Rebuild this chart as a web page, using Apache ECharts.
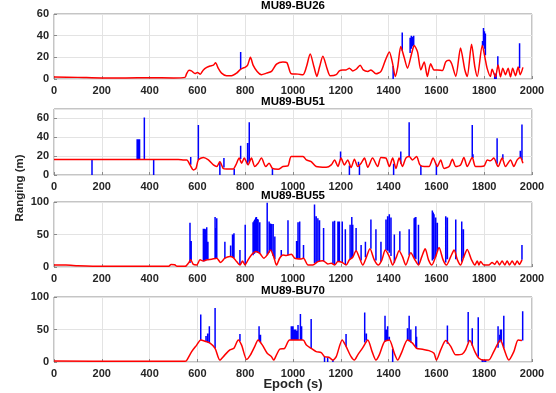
<!DOCTYPE html>
<html><head><meta charset="utf-8">
<script src="https://cdn.jsdelivr.net/npm/echarts@6/dist/echarts.min.js"></script>
<style>html,body{margin:0;padding:0;background:#fff}#c{width:556px;height:393px}</style>
</head><body><div id="c"></div><script>
const panelTitles = ['MU89-BU26', 'MU89-BU51', 'MU89-BU55', 'MU89-BU70'];
const xMin = 0, xMax = 2000, xInterval = 200;
const yMaxes = [60, 70, 100, 100];
const yIntervals = [20, 20, 50, 50];

// red curves [epoch, ranging]
const red26 = [[0,1.8],[100,1.5],[200,1],[300,1],[400,1.2],[500,1],[548,1.5],[555,5],[565,8],[575,7.5],[590,5],[600,6],[612,4.5],[625,8.4],[639,10.7],[653,12],[667,12.8],[676,15],[687,10],[701,5.4],[722,3],[743,3],[764,5.4],[778,8.4],[790,10],[799,10.7],[810,12.8],[822,20],[833,12.8],[850,7],[868,4],[889,5.4],[910,7],[931,13.7],[958,15.8],[975,15],[993,4.8],[1021,4.5],[1042,4],[1056,11],[1072,23],[1088,11],[1100,2.4],[1111,11],[1125,21],[1142,10],[1156,3],[1181,4],[1194,7.5],[1208,8.4],[1222,8.4],[1236,10],[1250,7.5],[1264,9],[1281,12.8],[1294,8.4],[1313,7],[1326,8.4],[1347,4.8],[1368,7],[1386,17],[1403,25],[1417,14],[1428,2.4],[1438,11],[1451,30],[1465,20],[1479,10],[1497,24],[1507,31],[1521,25],[1535,8.4],[1549,15.8],[1562,2.4],[1576,14],[1590,8.4],[1604,8.4],[1625,7.8],[1639,15.8],[1653,17.3],[1664,14],[1681,2.4],[1701,28.7],[1719,8.4],[1729,2.4],[1747,32],[1761,11],[1771,2.4],[1792,31],[1803,20],[1812,10],[1826,2.4],[1833,9],[1847,2],[1858,13],[1868,2],[1878,10],[1889,4],[1900,10],[1910,2],[1919,10],[1931,3],[1942,11],[1951,4],[1962,10.7]];
const red51 = [[0,16.5],[520,16.5],[545,16],[556,16],[569,10.7],[583,5.4],[594,7],[604,16],[625,18.6],[646,16],[667,10.7],[681,9],[694,14],[708,7],[722,6.4],[750,6.4],[761,10.7],[775,17.9],[785,12.5],[796,17.9],[812,10.7],[826,17.9],[840,9],[854,12.5],[868,17.9],[886,9],[900,12.5],[914,7],[938,6],[958,9],[979,9.6],[993,19.6],[1042,19.6],[1056,16],[1076,14.3],[1097,9],[1139,8.2],[1160,10.7],[1174,16],[1188,9],[1201,17.9],[1215,10.7],[1229,16],[1243,7.9],[1257,16.8],[1271,9],[1285,12.5],[1299,17.9],[1313,8.2],[1333,17.9],[1354,9],[1368,18.6],[1389,17.9],[1403,9],[1417,17.9],[1431,7],[1444,17.9],[1458,9],[1472,17.9],[1486,19.6],[1500,16],[1517,19.6],[1531,10.7],[1549,9],[1569,9],[1586,17.9],[1604,9],[1618,16],[1632,7],[1653,9],[1667,16.8],[1681,9],[1701,10.7],[1715,18.6],[1729,9],[1750,18.6],[1764,9],[1799,9.6],[1813,16],[1826,15],[1840,17.9],[1858,9],[1875,17.9],[1889,9],[1910,16],[1924,9],[1938,16],[1951,18.6],[1962,12.5]];
const red55 = [[0,3],[50,3],[100,2],[200,1],[300,1],[480,1],[490,4],[505,3.5],[515,1],[549,1],[562,5.7],[572,11],[583,4],[597,3],[611,11],[625,9.3],[639,11],[660,12],[681,13.5],[697,7],[715,13.5],[736,16],[750,14.5],[764,8.3],[778,3],[789,9.3],[799,3],[812,11],[826,18.6],[844,24],[861,21],[878,13.5],[892,18.6],[906,26],[919,16],[931,3],[944,13.5],[958,18.6],[972,17.6],[993,19.7],[1007,13.5],[1035,12.4],[1044,13.5],[1063,3],[1083,3],[1104,8.3],[1125,9.8],[1146,4.7],[1160,5.7],[1174,3],[1188,8.3],[1206,7],[1222,3],[1236,11],[1250,15],[1264,25],[1278,14],[1292,3],[1306,14],[1322,28],[1340,11],[1357,3],[1372,11],[1386,26],[1403,16],[1417,3],[1431,14],[1444,25],[1458,16],[1472,3],[1493,22],[1510,11],[1525,3],[1539,16],[1553,28],[1567,11],[1581,3],[1597,16],[1611,30],[1628,11],[1642,3],[1660,16],[1674,26],[1688,11],[1701,3],[1715,16],[1729,27],[1747,11],[1761,3],[1771,9.3],[1778,3],[1785,8.3],[1799,3],[1819,3],[1833,7],[1844,4],[1854,9.3],[1864,3],[1875,9.3],[1886,3],[1896,9.3],[1906,3],[1917,9.3],[1928,3],[1938,9.3],[1947,4],[1958,11]];
const red70 = [[0,1.5],[300,1.2],[548,1],[556,3],[576,16],[597,26],[614,34],[632,32],[653,29],[674,21],[694,3],[715,11],[736,18.6],[753,21],[771,34],[785,26],[806,4],[822,11],[840,24],[854,34],[872,26],[892,13.4],[910,8.2],[919,3],[931,11],[944,19.6],[965,21],[986,34],[1042,34],[1056,26],[1076,21],[1097,16],[1118,14.4],[1132,8.2],[1150,7.2],[1167,3],[1181,8.2],[1206,34],[1222,24],[1243,8.2],[1257,3],[1271,11],[1292,22],[1313,34],[1331,16],[1347,3],[1361,11],[1382,31],[1403,34],[1424,13.4],[1438,3],[1456,16],[1479,34],[1500,29],[1517,21],[1542,19.6],[1569,17.5],[1590,13.4],[1600,3],[1618,18.6],[1639,33],[1660,24],[1681,11],[1708,12],[1722,18.6],[1740,33],[1761,16],[1778,5.7],[1799,3],[1819,3],[1840,16],[1868,34],[1882,21],[1903,3],[1924,16],[1942,34],[1958,33]];

// blue spikes [epoch, from, to]
const blue26 = [[781,9,25],[1419,12,0],[1457,26,43],[1490,24,38],[1495,28,40],[1500,30,39],[1505,31,40],[1793,30,35],[1797,31,47],[1801,28,44],[1805,22,42],[1844,5,0],[1850,5,0],[1857,10,21],[1948,10,33]];
const blue51 = [[159,16.5,0],[348,16.5,38],[353,16.5,38],[358,16.5,38],[378,16.5,61],[417,16.5,0],[572,11,19],[604,16,53],[694,14,0],[711,8,18],[754,6.4,0],[781,17,31],[810,11,34],[817,14,56],[914,7,0],[1199,16,25],[1236,10,0],[1274,10,14],[1278,10,0],[1421,12,0],[1451,12,25],[1486,19.6,56],[1535,10,0],[1600,12,0],[1750,18.6,53],[1753,18,22],[1854,12,39],[1878,17,22],[1951,18.6,25.7],[1958,16,53.6]];
const blue55 = [[569,6,68],[574,10,40],[625,9,59],[630,9,59],[635,10,58],[639,11,61],[644,11,39],[674,13,77],[678,13,60],[681,13,75],[715,13,39],[739,16,33],[747,15,50],[753,14,52],[778,3,26],[800,3,65],[833,18,69],[837,20,71],[840,21,73],[844,24,76],[847,23,77],[851,22,74],[854,22,73],[861,21,69],[892,19,99],[900,22,70],[906,26,67],[910,24,66],[917,17,66],[924,12,47],[951,16,26],[979,18,72],[1015,14,40],[1021,14,69],[1028,13,70],[1044,13,34],[1090,6,96],[1097,7,78],[1104,8,75],[1111,9,72],[1128,9,60],[1167,5,70],[1174,3,71],[1188,8,70],[1194,8,70],[1206,7,70],[1219,3,58],[1239,12,65],[1246,14,77],[1250,16,65],[1264,25,60],[1285,10,34],[1303,15,39],[1326,28,73],[1347,10,58],[1368,8,39],[1389,26,73],[1396,25,78],[1403,22,81],[1410,17,76],[1424,6,50],[1447,25,55],[1486,18,58],[1507,15,75],[1510,14,76],[1514,12,77],[1525,3,65],[1583,10,87],[1587,12,84],[1590,14,81],[1597,16,76],[1604,24,68],[1639,7,78],[1646,12,76],[1681,12,73],[1706,8,70],[1713,14,58],[1958,11,34]];
const blue70 = [[614,34,73],[636,31,40],[643,30,44],[650,29,55],[674,21,83],[778,32,43],[858,32,55],[864,30,42],[993,34,55],[997,34,55],[1000,34,55],[1005,34,50],[1011,34,50],[1016,34,48],[1021,34,57],[1031,34,74],[1036,34,55],[1076,21,66],[1132,8,0],[1145,7,0],[1167,3,0],[1222,24,43],[1300,30,76],[1307,33,44],[1385,31,71],[1390,33,50],[1396,34,55],[1403,34,39],[1417,20,0],[1479,34,52],[1486,32,71],[1493,30,50],[1514,22,55],[1517,21,39],[1646,28,56],[1733,30,77],[1750,25,52],[1775,8,69],[1792,4,0],[1799,3,0],[1806,3,0],[1858,22,55],[1865,30,42],[1868,34,50],[1872,32,50],[1882,21,71],[1961,33,78]];

const reds = [red26, red51, red55, red70];
const blues = [blue26, blue51, blue55, blue70];

// layout
const gridTops = [14, 109, 202, 297];
const gridHeights = [65, 66, 65, 65];
const titleYs = [6, 101.5, 195.5, 290.5];
const FONT = '"Liberation Sans", Arial, sans-serif';
const TXT = '#262626';

function spikeData(list) {
  const out = [];
  list.forEach(s => { out.push([s[0], s[1]]); out.push([s[0], s[2]]); out.push([s[0], '-']); });
  return out;
}
const plain = v => String(v);

const grid = [], xAxis = [], yAxis = [], series = [], graphic = [];
for (let i = 0; i < 4; i++) {
  grid.push({left: 54, width: 478, top: gridTops[i], height: gridHeights[i], show: true,
    borderColor: '#8a8a8a', borderWidth: 1, backgroundColor: '#fff'});
  xAxis.push({type: 'value', gridIndex: i, min: xMin, max: xMax, interval: xInterval,
    axisLine: {show: false}, axisTick: {show: true, inside: true, length: 3, lineStyle: {color: '#8a8a8a'}},
    splitLine: {show: true, lineStyle: {color: '#e3e3e3', width: 1}},
    axisLabel: {fontFamily: FONT, fontWeight: 'bold', fontSize: 11, color: TXT, margin: 6, formatter: plain}});
  yAxis.push({type: 'value', gridIndex: i, min: 0, max: yMaxes[i], interval: yIntervals[i],
    axisLine: {show: false}, axisTick: {show: true, inside: true, length: 3, lineStyle: {color: '#8a8a8a'}},
    splitLine: {show: true, lineStyle: {color: '#e3e3e3', width: 1}},
    axisLabel: {fontFamily: FONT, fontWeight: 'bold', fontSize: 11, color: TXT, margin: 5, formatter: plain,
      showMaxLabel: yMaxes[i] % yIntervals[i] === 0}});
  series.push({type: 'line', xAxisIndex: i, yAxisIndex: i, data: spikeData(blues[i]), showSymbol: false,
    connectNulls: false, lineStyle: {color: '#0000ff', width: 1.5}, z: 2, animation: false, silent: true});
  series.push({type: 'line', xAxisIndex: i, yAxisIndex: i, data: reds[i], showSymbol: false, smooth: 0.25,
    lineStyle: {color: '#ff0000', width: 1.5}, z: 3, animation: false, silent: true});
  graphic.push({type: 'text', x: 293, y: titleYs[i], style: {text: panelTitles[i], fontFamily: FONT,
    fontWeight: 'bold', fontSize: 11.5, fill: '#000', align: 'center', verticalAlign: 'middle'}});
}
graphic.push({type: 'text', x: 293, y: 384, style: {text: 'Epoch (s)', fontFamily: FONT, fontWeight: 'bold',
  fontSize: 13, fill: TXT, align: 'center', verticalAlign: 'middle'}});
graphic.push({type: 'text', x: 20, y: 188, rotation: Math.PI / 2, style: {text: 'Ranging (m)', fontFamily: FONT,
  fontWeight: 'bold', fontSize: 11.5, fill: TXT, align: 'center', verticalAlign: 'middle'}});

const chart = echarts.init(document.getElementById('c'), null, {renderer: 'canvas'});
chart.setOption({animation: false, backgroundColor: '#fff', grid, xAxis, yAxis, series, graphic});
</script></body></html>
